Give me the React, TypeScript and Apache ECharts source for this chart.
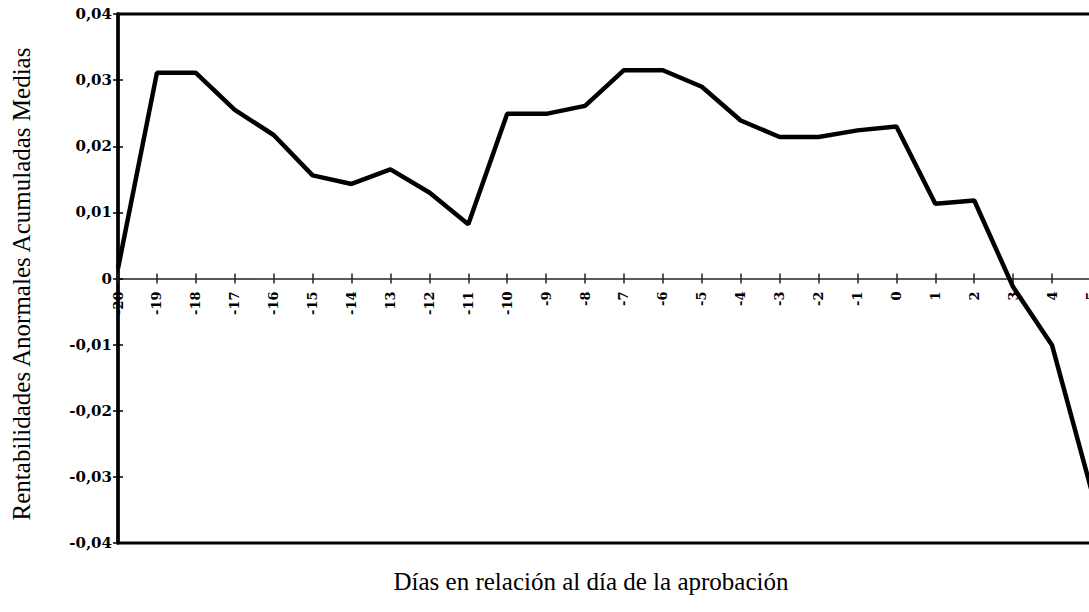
import React, { useEffect, useRef } from "react";
import * as echarts from "echarts";

const dayLabels = ["-20","-19","-18","-17","-16","-15","-14","13","-12","-11","-10","-9","-8","-7","-6","-5","-4","-3","-2","-1","0","1","2","3","4","5"];
const carValues = [0.0015,0.0311,0.0311,0.0255,0.0217,0.0156,0.0143,0.0165,0.013,0.0082,0.0249,0.0249,0.0261,0.0315,0.0315,0.029,0.0239,0.0214,0.0214,0.0224,0.023,0.0113,0.0118,-0.0013,-0.0101,-0.0318];
const yMin = -0.04;
const yMax = 0.04;
const yStep = 0.01;
const yTitle = "Rentabilidades Anormales Acumuladas Medias";
const xTitle = "Días en relación al día de la aprobación";

export default function App() {
  const ref = useRef<HTMLDivElement>(null);
  useEffect(() => {
    document.body.style.margin = "0";
    const chart = echarts.init(ref.current!, null, { renderer: "svg" });
    const fmt = (v: number) => (Math.abs(v) < 1e-9 ? "0" : v.toFixed(2).replace(".", ","));
    const left = 118, right = -2, top = 14, bottom = 69;
    const plotH = 612 - top - bottom;
    const zeroH = plotH * (yMax / (yMax - yMin));
    chart.setOption({
      animation: false,
      backgroundColor: "#fff",
      grid: [
        { left, right, top, bottom, show: true, borderColor: "#000", borderWidth: 3, backgroundColor: "transparent", containLabel: false, outerBoundsMode: "none" },
        { left, right, top, height: zeroH, show: false, containLabel: false, outerBoundsMode: "none" },
      ],
      xAxis: [
        {
          gridIndex: 0, type: "category", data: dayLabels, boundaryGap: false,
          axisLine: { show: false }, axisTick: { show: false }, axisLabel: { show: false }, splitLine: { show: false },
        },
        {
          gridIndex: 1, type: "category", data: dayLabels, boundaryGap: false, position: "bottom",
          axisLine: { show: true, onZero: false, lineStyle: { color: "#222", width: 1.5 } },
          axisTick: { show: true, interval: 0, length: 5, lineStyle: { color: "#222", width: 1.5 } },
          axisLabel: { interval: 0, rotate: 90, margin: 13, fontFamily: "DejaVu Serif", fontWeight: "bold", fontSize: 13, color: "#000" },
          splitLine: { show: false },
        },
        {
          gridIndex: 1, type: "category", data: dayLabels, boundaryGap: false, position: "bottom",
          axisLine: { show: false, onZero: false },
          axisTick: { show: true, inside: true, interval: 0, length: 5, lineStyle: { color: "#222", width: 1.5 } },
          axisLabel: { show: false },
          splitLine: { show: false },
        },
      ],
      yAxis: [
        {
          gridIndex: 0, type: "value", min: yMin, max: yMax, interval: yStep, position: "left",
          axisLine: { show: true, lineStyle: { color: "#000", width: 3.5 } },
          axisTick: { show: true, length: 5, lineStyle: { color: "#000", width: 1.5 } },
          axisLabel: { formatter: fmt, margin: 6, fontFamily: "DejaVu Serif", fontWeight: "bold", fontSize: 15, color: "#000" },
          splitLine: { show: false },
        },
        {
          gridIndex: 0, type: "value", min: yMin, max: yMax, interval: yStep, position: "left",
          axisLine: { show: false },
          axisTick: { show: true, inside: true, length: 5, lineStyle: { color: "#000", width: 1.5 } },
          axisLabel: { show: false },
          splitLine: { show: false },
        },
        {
          gridIndex: 1, type: "value", min: 0, max: yMax, show: false,
        },
      ],
      series: [
        {
          type: "line", data: carValues, xAxisIndex: 0, yAxisIndex: 0, symbol: "none",
          lineStyle: { color: "#000", width: 4.5 },
        },
      ],
      graphic: [
        {
          type: "text", x: 21, y: 284, rotation: Math.PI / 2,
          style: { text: yTitle, fill: "#000", font: "25px 'Liberation Serif'", textAlign: "center", textVerticalAlign: "middle" },
        },
        {
          type: "text", x: 591, y: 581,
          style: { text: xTitle, fill: "#000", font: "25px 'Liberation Serif'", textAlign: "center", textVerticalAlign: "middle" },
        },
      ],
    });
    return () => chart.dispose();
  }, []);
  return <div ref={ref} style={{ position: "fixed", left: 0, top: 0, width: 1089, height: 612 }} />;
}
